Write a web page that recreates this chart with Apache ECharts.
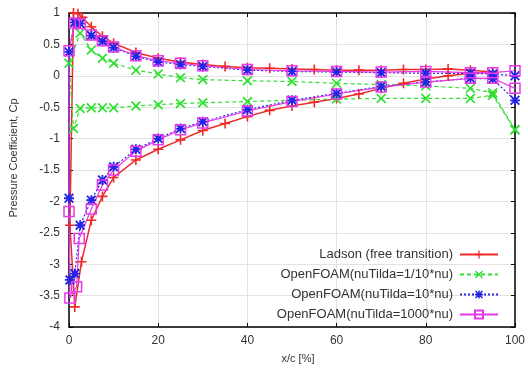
<!DOCTYPE html>
<html>
<head>
<meta charset="utf-8">
<script src="https://cdn.jsdelivr.net/npm/echarts@6/dist/echarts.min.js"></script>
<style>
  html, body { margin: 0; padding: 0; background: #fff; }
  #chart { width: 528px; height: 371px; }
</style>
</head>
<body>
<div id="chart"></div>
<script>
// Cp along the airfoil surface: pressure side TE -> LE, then suction side LE -> TE
const ladsonX = [95, 90, 85, 80, 75, 70, 65, 60, 55, 50, 45, 40, 35, 30, 25, 20, 15, 10, 7.5, 5, 3, 2, 1, 0.2,
  1.3, 2.8, 5, 7.5, 10, 15, 20, 25, 30, 35, 40, 45, 50, 55, 60, 65, 70, 75, 80, 85, 90, 95];
const ladsonCp = [0.06, 0.09, 0.11, 0.1, 0.1, 0.09, 0.09, 0.09, 0.1, 0.11, 0.12, 0.13, 0.15, 0.18, 0.22, 0.28, 0.37, 0.52, 0.63, 0.78, 0.93, 0.99, 1.0, -2.38,
  -3.68, -2.96, -2.3, -1.92, -1.62, -1.34, -1.17, -1.02, -0.87, -0.76, -0.65, -0.55, -0.48, -0.42, -0.36, -0.29, -0.2, -0.12, -0.05, 0.0, 0.04, 0.06];

const lowNuX = [100, 95, 90, 80, 70, 60, 50, 40, 30, 25, 20, 15, 10, 7.5, 5, 2.5, 0, 1,
  2.5, 5, 7.5, 10, 15, 20, 25, 30, 40, 50, 60, 70, 80, 90, 95, 100];
const lowNuCp = [-0.86, -0.27, -0.2, -0.16, -0.14, -0.12, -0.09, -0.08, -0.06, -0.03, 0.03, 0.09, 0.2, 0.28, 0.41, 0.68, 0.2, -0.84,
  -0.52, -0.51, -0.51, -0.51, -0.48, -0.46, -0.44, -0.43, -0.41, -0.39, -0.37, -0.36, -0.36, -0.36, -0.31, -0.86];

const midNuX = [100, 95, 90, 80, 70, 60, 50, 40, 30, 25, 20, 15, 10, 7.5, 5, 2.5, 1.25, 0, 0, 0.2,
  1.3, 2.5, 5, 7.5, 10, 15, 20, 25, 30, 40, 50, 60, 70, 80, 90, 95, 100];
const midNuCp = [0.0, 0.03, 0.04, 0.04, 0.05, 0.06, 0.07, 0.09, 0.15, 0.18, 0.22, 0.31, 0.45, 0.55, 0.64, 0.83, 0.85, 0.38, -1.95, -3.25,
  -3.15, -2.38, -1.98, -1.66, -1.45, -1.17, -1.0, -0.84, -0.73, -0.54, -0.39, -0.28, -0.17, -0.1, -0.04, -0.05, -0.39];

const highNuX = [100, 95, 90, 80, 70, 60, 50, 40, 30, 25, 20, 15, 10, 7.5, 5, 2.5, 1.25, 0, 0, 0.2,
  1.7, 2.3, 5, 7.5, 10, 15, 20, 25, 30, 40, 50, 60, 70, 80, 90, 95, 100];
const highNuCp = [0.08, 0.05, 0.05, 0.07, 0.06, 0.07, 0.08, 0.1, 0.16, 0.2, 0.24, 0.32, 0.46, 0.56, 0.65, 0.83, 0.84, 0.4, -2.16, -3.54,
  -3.36, -2.59, -2.12, -1.74, -1.5, -1.2, -1.02, -0.86, -0.75, -0.56, -0.41, -0.29, -0.18, -0.1, -0.04, -0.04, -0.2];

const seriesNames = [
  'Ladson (free transition)',
  'OpenFOAM(nuTilda=1/10*nu)',
  'OpenFOAM(nuTilda=10*nu)',
  'OpenFOAM(nuTilda=1000*nu)',
];

const pairs = (xs, ys) => xs.map((x, i) => [x, ys[i]]);

const PLUS = 'path://M4.2,0h1.6v10h-1.6zM0,4.2h10v1.6h-10z';
const CROSS = 'path://M0,1.2L1.2,0L5,3.8L8.8,0L10,1.2L6.2,5L10,8.8L8.8,10L5,6.2L1.2,10L0,8.8L3.8,5z';
const STAR = 'path://M4.1,0h1.8v10h-1.8zM0,4.1h10v1.8h-10zM0,1.3L1.3,0L5,3.7L8.7,0L10,1.3L6.3,5L10,8.7L8.7,10L5,6.3L1.3,10L0,8.7L3.7,5z';

const font = '"Liberation Sans", Arial, sans-serif';
const ink = '#333';

const chart = echarts.init(document.getElementById('chart'), null, { renderer: 'canvas' });
chart.setOption({
  animation: false,
  backgroundColor: '#fff',
  textStyle: { fontFamily: font },
  grid: { left: 69, right: 12, top: 13, bottom: 44 },
  legend: {
    orient: 'vertical',
    right: 24,
    top: 243,
    align: 'right',
    itemWidth: 38,
    itemHeight: 10,
    itemGap: 7,
    textStyle: { fontFamily: font, fontSize: 13, color: ink, padding: [0, 2, 0, 0] },
    data: seriesNames,
  },
  xAxis: [{
    type: 'value', min: 0, max: 100, interval: 20,
    name: 'x/c [%]', nameLocation: 'middle', nameGap: 26,
    nameTextStyle: { fontSize: 11, color: ink, padding: [0, 0, 0, 12] },
    axisLine: { onZero: false, lineStyle: { color: '#000', width: 1.5 } },
    axisTick: { inside: true, length: 4, lineStyle: { color: '#000' } },
    axisLabel: { fontSize: 12, color: ink, margin: 8 },
    splitLine: { show: true, lineStyle: { color: '#e2e2e2', width: 1 } },
  }, {
    type: 'value', min: 0, max: 100, interval: 20, position: 'top',
    axisLine: { show: true, onZero: false, lineStyle: { color: '#000', width: 1.5 } },
    axisTick: { inside: true, length: 4, lineStyle: { color: '#000' } },
    axisLabel: { show: false },
    splitLine: { show: false },
  }],
  yAxis: [{
    type: 'value', min: -4, max: 1, interval: 0.5,
    name: 'Pressure Coefficient, Cp', nameLocation: 'middle', nameGap: 50,
    nameTextStyle: { fontSize: 11, color: ink, padding: [0, 0, 0, 24] },
    axisLine: { show: true, onZero: false, lineStyle: { color: '#000', width: 1.5 } },
    axisTick: { show: true, inside: true, length: 4, lineStyle: { color: '#000' } },
    axisLabel: { fontSize: 12, color: ink, margin: 9 },
    splitLine: { show: true, lineStyle: { color: '#e2e2e2', width: 1 } },
  }, {
    type: 'value', min: -4, max: 1, interval: 0.5, position: 'right',
    axisLine: { show: true, onZero: false, lineStyle: { color: '#000', width: 1.5 } },
    axisTick: { show: true, inside: true, length: 4, lineStyle: { color: '#000' } },
    axisLabel: { show: false },
    splitLine: { show: false },
  }],
  series: [
    {
      name: seriesNames[0], type: 'line', clip: false,
      data: pairs(ladsonX, ladsonCp),
      symbol: PLUS, symbolSize: 10,
      lineStyle: { color: '#ee2a2a', width: 1.5 },
      itemStyle: { color: '#ee2a2a' },
    },
    {
      name: seriesNames[1], type: 'line', clip: false,
      data: pairs(lowNuX, lowNuCp),
      symbol: CROSS, symbolSize: 10,
      lineStyle: { color: '#2fdf2f', width: 1.2, type: [4, 3] },
      itemStyle: { color: '#2fdf2f' },
    },
    {
      name: seriesNames[2], type: 'line', clip: false,
      data: pairs(midNuX, midNuCp),
      symbol: STAR, symbolSize: 10,
      lineStyle: { color: '#2424e6', width: 1.2, type: [2, 2] },
      itemStyle: { color: '#2424e6' },
    },
    {
      name: seriesNames[3], type: 'line', clip: false,
      data: pairs(highNuX, highNuCp),
      symbol: 'rect', symbolSize: 10,
      lineStyle: { color: '#e838e8', width: 1.2 },
      itemStyle: { color: 'rgba(0,0,0,0)', borderColor: '#e838e8', borderWidth: 1.5 },
    },
  ],
});
</script>
</body>
</html>
